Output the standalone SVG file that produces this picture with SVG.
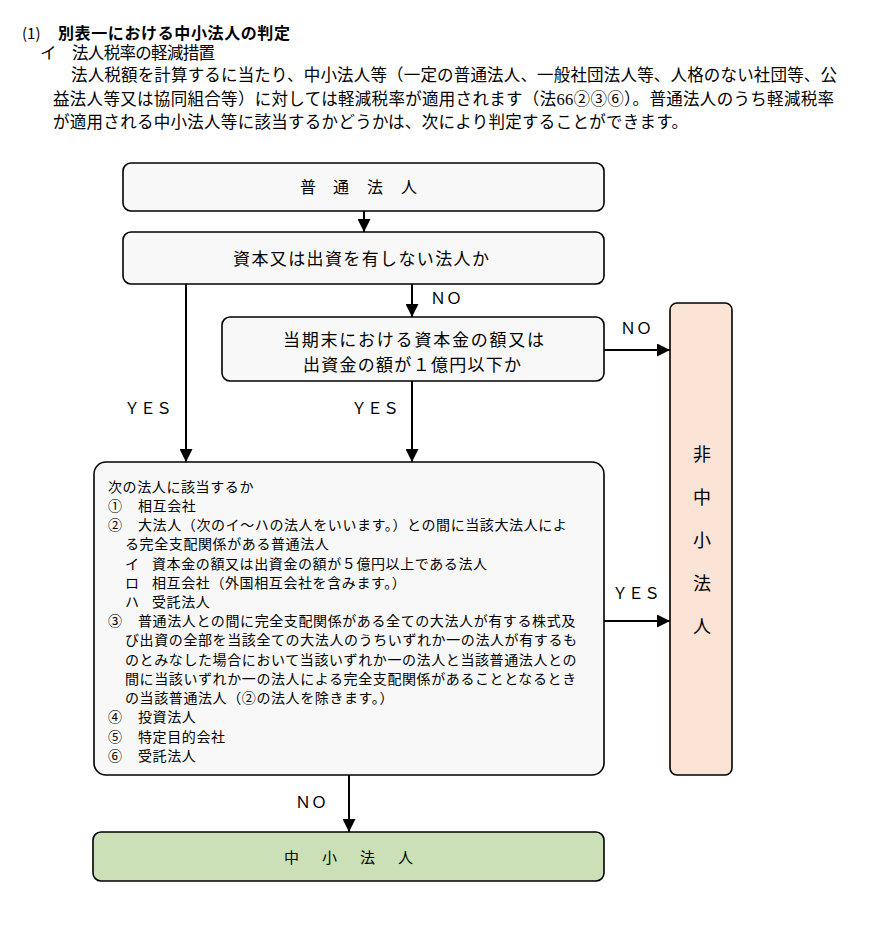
<svg xmlns="http://www.w3.org/2000/svg" width="872" height="932" viewBox="0 0 872 932">
<defs>
<marker id="ah" markerWidth="13" markerHeight="13" refX="13" refY="6.5" orient="auto" markerUnits="userSpaceOnUse">
<path d="M0,0 L13,6.5 L0,13 Z" fill="#000"/>
</marker>
<style>
.g{font-family:"Noto Sans CJK JP","Noto Sans",sans-serif;fill:#000}
.m{font-family:"Liberation Serif","Noto Sans CJK JP",serif;fill:#000;font-size:16.5px}
.box{fill:#f8f8f8;stroke:#000;stroke-width:1.6}
.c{stroke:#000;stroke-width:2;fill:none;marker-end:url(#ah)}
.lab{font-size:16px}
.t14{font-size:14px;letter-spacing:0.6px}
.b17{font-size:17px}
</style>
</defs>
<rect width="872" height="932" fill="#fff"/>
<g id="header">
<text class="g" x="22" y="39" font-size="15">(1)</text>
<text class="g" x="58" y="39" font-size="16" font-weight="bold" textLength="232" lengthAdjust="spacing">別表一における中小法人の判定</text>
<text class="m" x="40" y="59">イ</text>
<text class="m" x="72" y="59" textLength="143" lengthAdjust="spacing">法人税率の軽減措置</text>
<text class="m" x="71" y="81" textLength="766" lengthAdjust="spacing">法人税額を計算するに当たり、中小法人等（一定の普通法人、一般社団法人等、人格のない社団等、公</text>
<text class="m" x="53" y="105" textLength="781" lengthAdjust="spacing">益法人等又は協同組合等）に対しては軽減税率が適用されます（法66②③⑥）。普通法人のうち軽減税率</text>
<text class="m" x="53" y="128" textLength="635" lengthAdjust="spacing">が適用される中小法人等に該当するかどうかは、次により判定することができます。</text>
</g>
<g id="connectors">
<line class="c" x1="364" y1="211" x2="364" y2="232"/>
<line class="c" x1="412" y1="284" x2="412" y2="317"/>
<line class="c" x1="186" y1="284" x2="186" y2="462"/>
<line class="c" x1="412" y1="381" x2="412" y2="462"/>
<line class="c" x1="604" y1="350" x2="670" y2="350"/>
<line class="c" x1="604" y1="621" x2="670" y2="621"/>
<line class="c" x1="349" y1="775" x2="349" y2="832"/>
<text class="g lab" x="430" y="304">ＮＯ</text>
<text class="g lab" x="620" y="334">ＮＯ</text>
<text class="g lab" x="124" y="414">ＹＥＳ</text>
<text class="g lab" x="351" y="414">ＹＥＳ</text>
<text class="g lab" x="612" y="599">ＹＥＳ</text>
<text class="g lab" x="295" y="808">ＮＯ</text>
</g>
<g id="n1">
<rect class="box" x="123" y="163" width="481" height="48" rx="8"/>
<text class="g" font-size="16" y="193" x="300 333 367 401">普通法人</text>
</g>
<g id="n2">
<rect class="box" x="123" y="232" width="481" height="52" rx="8"/>
<text class="g b17" x="233" y="265" textLength="256" lengthAdjust="spacing">資本又は出資を有しない法人か</text>
</g>
<g id="n3">
<rect class="box" x="222" y="317" width="382" height="64" rx="8"/>
<text class="g b17" x="283" y="346" textLength="261" lengthAdjust="spacing">当期末における資本金の額又は</text>
<text class="g b17" x="303" y="371" textLength="218" lengthAdjust="spacing">出資金の額が１億円以下か</text>
</g>
<g id="n4">
<rect class="box" x="94" y="462" width="510" height="313" rx="12"/>
<g class="g t14">
<text x="108" y="492">次の法人に該当するか</text>
<text x="108" y="511">①</text><text x="138" y="511">相互会社</text>
<text x="108" y="530">②</text><text x="138" y="530">大法人（次のイ～ハの法人をいいます。）との間に当該大法人によ</text>
<text x="125" y="549">る完全支配関係がある普通法人</text>
<text x="125" y="569">イ</text><text x="152" y="569">資本金の額又は出資金の額が５億円以上である法人</text>
<text x="125" y="588">ロ</text><text x="152" y="588">相互会社（外国相互会社を含みます。）</text>
<text x="125" y="607">ハ</text><text x="152" y="607">受託法人</text>
<text x="108" y="626">③</text><text x="138" y="626">普通法人との間に完全支配関係がある全ての大法人が有する株式及</text>
<text x="125" y="645">び出資の全部を当該全ての大法人のうちいずれか一の法人が有するも</text>
<text x="125" y="665">のとみなした場合において当該いずれか一の法人と当該普通法人との</text>
<text x="125" y="684">間に当該いずれか一の法人による完全支配関係があることとなるとき</text>
<text x="125" y="703">の当該普通法人（②の法人を除きます。）</text>
<text x="108" y="722">④</text><text x="138" y="722">投資法人</text>
<text x="108" y="742">⑤</text><text x="138" y="742">特定目的会社</text>
<text x="108" y="761">⑥</text><text x="138" y="761">受託法人</text>
</g>
</g>
<g id="n5">
<rect x="670" y="303" width="62" height="472" rx="7" fill="#fbe3d6" stroke="#000" stroke-width="1.6"/>
<g class="g" font-size="18" text-anchor="middle">
<text x="702" y="461">非</text>
<text x="702" y="504">中</text>
<text x="702" y="547">小</text>
<text x="702" y="590">法</text>
<text x="702" y="633">人</text>
</g>
</g>
<g id="n6">
<rect x="93" y="832" width="511" height="49" rx="8" fill="#cbe0b6" stroke="#000" stroke-width="1.6"/>
<text class="g" font-size="15" y="863" x="284 322 360 398">中小法人</text>
</g>
</svg>
